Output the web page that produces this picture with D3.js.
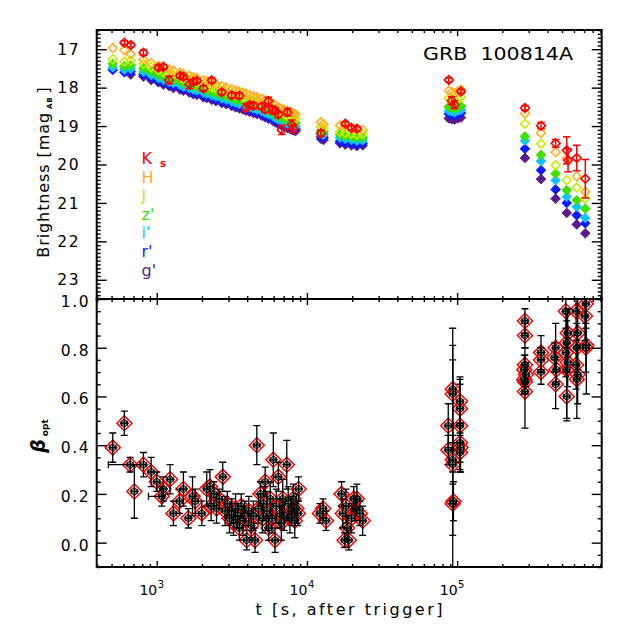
<!DOCTYPE html>
<html>
<head>
<meta charset="utf-8">
<script src="https://cdn.jsdelivr.net/npm/d3@7"></script>
<style>
  body { margin: 0; background: #fff; }
  text { font-family: "DejaVu Sans", sans-serif; }
</style>
</head>
<body>
<svg id="chart" width="629" height="629"></svg>
<script>
// ---- data ----
// observation epochs, seconds after trigger (shared by all bands)
const epochs = [509, 608, 671, 815, 917, 1025, 1108, 1208, 1290, 1430,
  1504, 1647, 1750, 1848, 2043, 2150, 2322, 2480, 2707, 2900,
  3155, 3350, 3546, 3750, 3930, 4150, 4397, 4640, 5000, 5270,
  5536, 5915, 6150, 6445, 6800, 7100, 7408, 7700, 7920, 8120, 8400,
  12400, 12900, 16600, 18000, 19800, 21500, 23500,
  88000, 92000, 96000, 101000, 106000,
  283000, 362000, 453000, 537000, 548000, 626000, 714000];

const magG = [null, null, 17.66, 17.71, 17.80, 17.86, 17.92, 17.96, 18.01, 18.05,
  18.08, 18.13, 18.17, 18.19, 18.25, 18.27, 18.32, 18.35, 18.40, 18.43,
  18.48, 18.51, 18.54, 18.57, 18.60, 18.63, 18.66, 18.69, 18.73, 18.77,
  18.81, 18.86, 18.90, 18.95, 18.99, 19.02, 19.05, 19.07, 19.09, 19.11, 19.13,
  19.33, 19.36, 19.45, 19.48, 19.50, 19.52, 19.50,
  18.80, 18.82, 18.83, 18.80, 18.78,
  19.83, 20.38, 20.89, 21.26, null, 21.56, 21.79];
const magR = [17.54, 17.60, 17.58, 17.66, 17.74, 17.82, 17.87, 17.92, 17.95, 18.00,
  18.04, 18.08, 18.12, 18.14, 18.20, 18.22, 18.27, 18.30, 18.35, 18.38,
  18.43, 18.46, 18.49, 18.52, 18.55, 18.58, 18.61, 18.64, 18.68, 18.72,
  18.76, 18.81, 18.85, 18.90, 18.94, 18.97, 19.00, 19.02, 19.04, 19.06, 19.08,
  19.27, 19.30, 19.40, 19.43, 19.45, 19.47, 19.45,
  18.68, 18.70, 18.72, 18.70, 18.66,
  19.59, 20.15, 20.65, 21.00, null, 21.32, 21.53];
const magI = [17.47, 17.53, 17.51, 17.59, 17.67, 17.75, 17.80, 17.85, 17.88, 17.93,
  17.97, 18.01, 18.05, 18.07, 18.13, 18.15, 18.20, 18.23, 18.28, 18.31,
  18.36, 18.39, 18.42, 18.45, 18.48, 18.51, 18.54, 18.57, 18.61, 18.65,
  18.69, 18.74, 18.78, 18.83, 18.87, 18.90, 18.93, 18.95, 18.97, 18.99, 19.01,
  19.20, 19.22, 19.30, 19.33, 19.36, 19.38, 19.37,
  18.60, 18.62, 18.64, 18.60, 18.58,
  19.38, 19.91, 20.41, 20.84, null, 21.10, 21.39];
const magZ = [17.38, 17.44, 17.42, 17.50, 17.58, 17.66, 17.71, 17.76, 17.79, 17.84,
  17.88, 17.92, 17.96, 17.98, 18.04, 18.06, 18.11, 18.14, 18.19, 18.22,
  18.27, 18.30, 18.33, 18.36, 18.39, 18.42, 18.45, 18.48, 18.52, 18.56,
  18.60, 18.65, 18.69, 18.74, 18.78, 18.81, 18.84, 18.86, 18.88, 18.90, 18.92,
  19.12, 19.15, 19.22, 19.26, 19.28, 19.30, 19.30,
  18.50, 18.52, 18.55, 18.50, 18.48,
  19.27, 19.75, 20.24, 20.67, null, 20.93, 21.15];
const magJ = [17.26, 17.32, 17.30, 17.38, 17.46, 17.54, 17.59, 17.64, 17.67, 17.72,
  17.76, 17.80, 17.84, 17.86, 17.92, 17.94, 17.99, 18.02, 18.07, 18.10,
  18.15, 18.18, 18.21, 18.24, 18.27, 18.30, 18.33, 18.36, 18.40, 18.44,
  18.48, 18.53, 18.57, 18.62, 18.66, 18.69, 18.72, 18.74, 18.76, 18.78, 18.80,
  19.02, 19.05, 19.15, 19.18, 19.20, 19.22, 19.20,
  18.28, 18.30, 18.32, 18.30, 18.25,
  18.94, 19.46, 20.02, 20.41, null, 20.60, 20.89];
const magH = [16.97, 17.02, 17.13, 17.26, 17.36, 17.43, 17.47, 17.52, 17.56, 17.61,
  17.65, 17.69, 17.73, 17.75, 17.81, 17.83, 17.88, 17.91, 17.96, 17.99,
  18.04, 18.07, 18.10, 18.13, 18.16, 18.19, 18.22, 18.25, 18.29, 18.33,
  18.37, 18.42, 18.46, 18.51, 18.55, 18.58, 18.61, 18.63, 18.65, 18.67, 18.69,
  18.90, 18.95, 18.98, 19.00, 19.05, 19.08, 19.10,
  18.08, 18.12, 18.15, 18.10, 18.05,
  18.67, 19.18, 19.68, 19.85, null, 20.31, 20.71];
const magK = [null, 16.83, 16.89, 17.09, null, 17.48, 17.46, 17.80, null, 17.69,
  17.72, 17.91, 17.85, 17.82, 18.02, null, 17.81, null, 18.12, null,
  18.20, null, 18.21, null, 18.52, 18.45, 18.47, null, 18.49, 18.57,
  18.35, 18.58, 18.60, 18.70, 19.10, null, 18.64, null, 18.96, 19.07, null,
  19.19, null, null, 18.94, 19.05, 19.07, null,
  17.80, 18.34, 18.44, null, 18.10,
  18.53, 18.99, 19.45, 19.63, 19.89, 19.83, 20.37];
const errK = [null, 0.05, 0.05, 0.07, null, 0.07, 0.06, 0.10, null, 0.06,
  0.06, 0.12, 0.06, 0.06, 0.07, null, 0.06, null, 0.06, null,
  0.07, null, 0.07, null, 0.10, 0.07, 0.08, null, 0.08, 0.08,
  0.10, 0.10, 0.08, 0.08, 0.12, null, 0.10, null, 0.12, 0.10, null,
  0.08, null, null, 0.05, 0.06, 0.06, null,
  0.05, 0.10, 0.10, null, 0.05,
  0.06, 0.08, 0.10, 0.35, 0.30, 0.33, 0.50];

const bandNames = ["g'", "r'", "i'", "z'", "J", "H", "Ks"];
const bandColors = ["#5a1a8c", "#0a1cff", "#10c4ff", "#3fe000", "#c2f000", "#ffb020", "#ff0000"];

// spectral slope beta_opt
const betaT = [509, 608, 665, 709, 815, 917, 1000, 1080, 1107, 1226,
  1290, 1415, 1504, 1623, 1730, 1800, 1995, 2150, 2260, 2300,
  2400, 2500, 2600, 2750, 2850, 2950, 3050, 3150, 3250, 3350,
  3450, 3550, 3650, 3750, 3850, 3970, 4100, 4250, 4400, 4510,
  4637, 4750, 4900, 5050, 5150, 5270, 5400, 5550, 5700, 5850,
  5970, 6130, 6250, 6450, 6600, 6750, 6900, 7050, 7340, 7500,
  7700, 7900, 8100, 8300, 8500, 8700, 8800,
  12200, 12800, 13400,
  17000, 17300, 17800, 18200, 18500, 19000, 19800, 20500, 21000, 21500, 22500, 23500,
  87300, 87300, 93500, 93500, 93500, 93500, 93500, 94500, 104500, 104500, 104500, 104500, 105500, 104500,
  283000, 283000, 283000, 280000, 287000, 280000, 283000, 283000,
  362000, 362000, 362000,
  453000, 445000, 458000, 453000,
  530000, 545000, 537000, 530000, 545000, 537000, 537000,
  620000, 635000, 627000, 620000, 635000, 627000,
  720000, 710000, 725000, 720000];
const betaVal = [0.39, 0.49, 0.32, 0.21, 0.32, 0.29, 0.25, 0.19, 0.22, 0.26,
  0.12, 0.17, 0.22, 0.10, 0.19, 0.17, 0.12, 0.22, 0.23, 0.15,
  0.20, 0.14, 0.18, 0.27, 0.13, 0.16, 0.10, 0.13, 0.08, 0.14,
  0.11, 0.06, 0.15, 0.09, 0.12, 0.01, 0.13, 0.07, 0.11, 0.01,
  0.40, 0.14, 0.20, 0.10, 0.16, 0.25, 0.13, 0.06, 0.18, 0.10,
  0.34, 0.01, 0.15, 0.27, 0.12, 0.08, 0.18, 0.11, 0.32, 0.16,
  0.10, 0.13, 0.18, 0.09, 0.14, 0.12, 0.22,
  0.12, 0.14, 0.09,
  0.20, 0.12, 0.01, 0.15, 0.06, 0.01, 0.10, 0.18, 0.14, 0.18, 0.12, 0.09,
  0.48, 0.38, 0.63, 0.61, 0.34, 0.32, 0.16, 0.17, 0.58, 0.55, 0.48, 0.41, 0.39, 0.37,
  0.91, 0.85, 0.73, 0.71, 0.69, 0.67, 0.66, 0.62,
  0.78, 0.75, 0.70,
  0.80, 0.76, 0.71, 0.65,
  0.95, 0.86, 0.82, 0.78, 0.74, 0.71, 0.60,
  0.95, 0.86, 0.80, 0.73, 0.69, 0.67,
  0.98, 0.93, 0.81, 0.80];
const betaErr = [0.06, 0.05, 0.03, 0.11, 0.05, 0.06, 0.04, 0.04, 0.05, 0.06,
  0.05, 0.05, 0.07, 0.04, 0.08, 0.05, 0.05, 0.07, 0.07, 0.06,
  0.05, 0.06, 0.04, 0.06, 0.06, 0.05, 0.06, 0.05, 0.05, 0.06,
  0.05, 0.05, 0.05, 0.06, 0.05, 0.04, 0.06, 0.05, 0.06, 0.05,
  0.08, 0.06, 0.05, 0.06, 0.07, 0.06, 0.08, 0.05, 0.07, 0.06,
  0.11, 0.05, 0.07, 0.06, 0.06, 0.07, 0.08, 0.06, 0.10, 0.07,
  0.06, 0.06, 0.06, 0.07, 0.06, 0.05, 0.05,
  0.04, 0.04, 0.04,
  0.05, 0.06, 0.03, 0.07, 0.05, 0.04, 0.06, 0.05, 0.05, 0.06, 0.05, 0.06,
  0.09, 0.06, 0.25, 0.20, 0.10, 0.43, 0.13, 0.08, 0.10, 0.10, 0.19, 0.08, 0.10, 0.07,
  0.05, 0.05, 0.07, 0.06, 0.05, 0.06, 0.05, 0.15,
  0.07, 0.05, 0.05,
  0.10, 0.06, 0.05, 0.10,
  0.15, 0.10, 0.12, 0.10, 0.10, 0.20, 0.10,
  0.10, 0.15, 0.10, 0.10, 0.12, 0.16,
  0.10, 0.10, 0.20, 0.10];
// two early points with long time bins
const spanT0 = [476, 880];
const spanT1 = [775, 1107];
const spanVal = [0.32, 0.19];

const magTicks = [17, 18, 19, 20, 21, 22, 23];
const betaTicks = [0.0, 0.2, 0.4, 0.6, 0.8, 1.0];
const timeTicks = [1e3, 1e4, 1e5];

// ---- layout ----
const L = 96.7, R = 601.7, T = 30, M = 299, B = 567;
const svg = d3.select("#chart");

const x = d3.scaleLog().domain([398, 918000]).range([L, R]);
const yMag = d3.scaleLinear().domain([16.5, 23.5]).range([T, M]);
const yBeta = d3.scaleLinear().domain([-0.1, 1.0]).range([B, M]);

const diamond = r => `M0,${-r}L${r},0L0,${r}L${-r},0Z`;

const defs = svg.append("defs");
defs.append("clipPath").attr("id", "clipTop").append("rect")
  .attr("x", L).attr("y", T).attr("width", R - L).attr("height", M - T);
defs.append("clipPath").attr("id", "clipBot").append("rect")
  .attr("x", L).attr("y", M).attr("width", R - L).attr("height", B - M);

// ---- top panel: light curves ----
const bandMags = [magG, magR, magI, magZ, magJ, magH, magK];
const gTop = svg.append("g").attr("clip-path", "url(#clipTop)");

bandNames.forEach((name, bi) => {
  const color = bandColors[bi];
  const open = (name === "J" || name === "H" || name === "Ks");
  const pts = epochs.map((t, i) => ({ t, m: bandMags[bi][i], e: name === "Ks" ? errK[i] : null }))
    .filter(d => d.m != null);
  const g = gTop.append("g");
  g.selectAll("path").data(pts).join("path")
    .attr("transform", d => `translate(${x(d.t)},${yMag(d.m)})`)
    .attr("d", diamond(open ? 4.4 : 4.9))
    .attr("fill", open ? "none" : color)
    .attr("stroke", color)
    .attr("stroke-width", open ? 1.6 : 0.8);
  if (name === "Ks") {
    const eb = g.selectAll("g.err").data(pts.filter(d => d.e != null)).join("g")
      .attr("stroke", color).attr("stroke-width", 1.5);
    eb.append("line")
      .attr("x1", d => x(d.t)).attr("x2", d => x(d.t))
      .attr("y1", d => yMag(d.m - d.e)).attr("y2", d => yMag(d.m + d.e));
    [-1, 1].forEach(s => eb.append("line")
      .attr("x1", d => x(d.t) - 3.8).attr("x2", d => x(d.t) + 3.8)
      .attr("y1", d => yMag(d.m + s * d.e)).attr("y2", d => yMag(d.m + s * d.e)));
  }
});

// ---- bottom panel: beta_opt ----
const gBot = svg.append("g").attr("clip-path", "url(#clipBot)");
const betaPts = betaT.map((t, i) => ({ t, v: betaVal[i], e: betaErr[i] }));

gBot.append("g").selectAll("path").data(betaPts).join("path")
  .attr("transform", d => `translate(${x(d.t)},${yBeta(d.v)})`)
  .attr("d", diamond(7.5))
  .attr("fill", "none").attr("stroke", "#ff0000").attr("stroke-width", 1.5);
gBot.append("g").selectAll("path").data(betaPts).join("path")
  .attr("transform", d => `translate(${x(d.t)},${yBeta(d.v)})`)
  .attr("d", diamond(4.4))
  .attr("fill", "#8a8a8a").attr("stroke", "#000").attr("stroke-width", 0.9);

const eb = gBot.append("g").attr("stroke", "#000").attr("stroke-width", 1.3)
  .selectAll("g").data(betaPts).join("g");
eb.append("line")
  .attr("x1", d => x(d.t)).attr("x2", d => x(d.t))
  .attr("y1", d => yBeta(d.v - d.e)).attr("y2", d => yBeta(d.v + d.e));
[-1, 1].forEach(s => eb.append("line")
  .attr("x1", d => x(d.t) - 3.5).attr("x2", d => x(d.t) + 3.5)
  .attr("y1", d => yBeta(d.v + s * d.e)).attr("y2", d => yBeta(d.v + s * d.e)));
eb.append("line")
  .attr("x1", d => x(d.t) - 3).attr("x2", d => x(d.t) + 3)
  .attr("y1", d => yBeta(d.v)).attr("y2", d => yBeta(d.v));
[-3, 3].forEach(s => eb.append("line")
  .attr("x1", d => x(d.t) + s).attr("x2", d => x(d.t) + s)
  .attr("y1", d => yBeta(d.v) - 2.5).attr("y2", d => yBeta(d.v) + 2.5));

const spans = gBot.append("g").attr("stroke", "#000").attr("stroke-width", 1.3)
  .selectAll("g").data(spanVal.map((v, i) => ({ v, t0: spanT0[i], t1: spanT1[i] }))).join("g");
spans.append("line")
  .attr("x1", d => x(d.t0)).attr("x2", d => x(d.t1))
  .attr("y1", d => yBeta(d.v)).attr("y2", d => yBeta(d.v));
spans.append("line")
  .attr("x1", d => x(d.t0)).attr("x2", d => x(d.t0))
  .attr("y1", d => yBeta(d.v) - 3.5).attr("y2", d => yBeta(d.v) + 3.5);
spans.append("line")
  .attr("x1", d => x(d.t1)).attr("x2", d => x(d.t1))
  .attr("y1", d => yBeta(d.v) - 3.5).attr("y2", d => yBeta(d.v) + 3.5);

// ---- axes (inward ticks) ----
function tickAxis(axis, tr, values, size) {
  svg.append("g").attr("transform", tr)
    .call(axis.tickValues(values).tickSize(size).tickFormat(""))
    .call(g => g.select(".domain").remove())
    .selectAll("line").attr("stroke", "#000").attr("stroke-width", 1.4);
}
const xAll = x.ticks();
const xMajor = xAll.filter(v => Math.abs(Math.log10(v) - Math.round(Math.log10(v))) < 1e-9);
const xMinor = xAll.filter(v => !xMajor.includes(v));
[[d3.axisTop, T], [d3.axisBottom, M], [d3.axisTop, M], [d3.axisBottom, B]].forEach(([ax, yy]) => {
  tickAxis(ax(x), `translate(0,${yy})`, xMinor, -3);
  tickAxis(ax(x), `translate(0,${yy})`, xMajor, -6);
});

const magMinor = yMag.ticks(70).filter(v => Math.abs(v - Math.round(v)) > 1e-6);
const betaAll = yBeta.ticks(22);
const betaMinor = betaAll.filter(v => Math.abs(v * 5 - Math.round(v * 5)) > 1e-6);
[[d3.axisLeft, L], [d3.axisRight, R]].forEach(([ax, xx]) => {
  tickAxis(ax(yMag), `translate(${xx},0)`, magMinor, -4);
  tickAxis(ax(yMag), `translate(${xx},0)`, magTicks, -10);
  tickAxis(ax(yBeta), `translate(${xx},0)`, betaMinor, -4);
  tickAxis(ax(yBeta), `translate(${xx},0)`, betaTicks, -10);
});

// frames
[[T, M], [M, B]].forEach(([y0, y1]) => {
  svg.append("rect").attr("x", L).attr("y", y0).attr("width", R - L).attr("height", y1 - y0)
    .attr("fill", "none").attr("stroke", "#000").attr("stroke-width", 2);
});

// tick labels
svg.append("g").selectAll("text").data(magTicks).join("text")
  .attr("x", 80).attr("y", d => yMag(d) + 5.6)
  .attr("text-anchor", "end").attr("font-size", 15.5).attr("letter-spacing", 1.5)
  .text(d => d);
svg.append("g").selectAll("text").data(betaTicks).join("text")
  .attr("x", 90).attr("y", d => yBeta(d) + 8)
  .attr("text-anchor", "end").attr("font-size", 15.5).attr("letter-spacing", 1.5)
  .text(d3.format(".1f"));
const xl = svg.append("g").selectAll("g").data(timeTicks).join("g");
xl.append("text").attr("x", d => x(d) + 0.5).attr("y", 595)
  .attr("text-anchor", "end").attr("font-size", 14).text("10");
xl.append("text").attr("x", d => x(d) + 1).attr("y", 588)
  .attr("font-size", 10).text(d => Math.round(Math.log10(d)));

// axis titles
svg.append("text").attr("x", 349).attr("y", 615).attr("text-anchor", "middle")
  .attr("font-size", 16).attr("textLength", 187).attr("lengthAdjust", "spacing")
  .text("t [s, after trigger]");

const yt = svg.append("text").attr("transform", "translate(48.5,172) rotate(-90)")
  .attr("text-anchor", "middle").attr("font-size", 16).attr("letter-spacing", 0.9);
yt.append("tspan").text("Brightness [mag");
yt.append("tspan").attr("font-size", 7).attr("font-weight", "bold").attr("dy", 3).attr("dx", 3).text("AB");
yt.append("tspan").attr("dy", -3).attr("dx", 3).text("]");

const bt = svg.append("text").attr("transform", "translate(45,436) rotate(-90)")
  .attr("text-anchor", "middle");
bt.append("tspan").attr("font-size", 19).attr("font-weight", "bold").attr("font-style", "italic").text("β");
bt.append("tspan").attr("font-size", 9).attr("font-weight", "bold").attr("dy", 3).attr("dx", 3).text("opt");

svg.append("text").attr("x", 423).attr("y", 60).attr("font-size", 18)
  .attr("textLength", 150).attr("lengthAdjust", "spacingAndGlyphs")
  .text("GRB\u00a0 100814A");

// legend (Ks at top, g' at bottom)
const legendOrder = bandNames.slice().reverse();
const leg = svg.append("g").selectAll("text").data(legendOrder).join("text")
  .attr("x", 141.5).attr("y", (d, i) => 164 + i * 18.6)
  .attr("font-family", "Liberation Sans, sans-serif").attr("font-size", 16)
  .attr("fill", d => bandColors[bandNames.indexOf(d)]);
leg.each(function (d) {
  const t = d3.select(this);
  if (d === "Ks") {
    t.append("tspan").text("K");
    t.append("tspan").attr("dx", 8).attr("dy", 3).attr("font-size", 10).attr("font-weight", "bold").text("s");
  } else {
    t.text(d);
  }
});
</script>
</body>
</html>
